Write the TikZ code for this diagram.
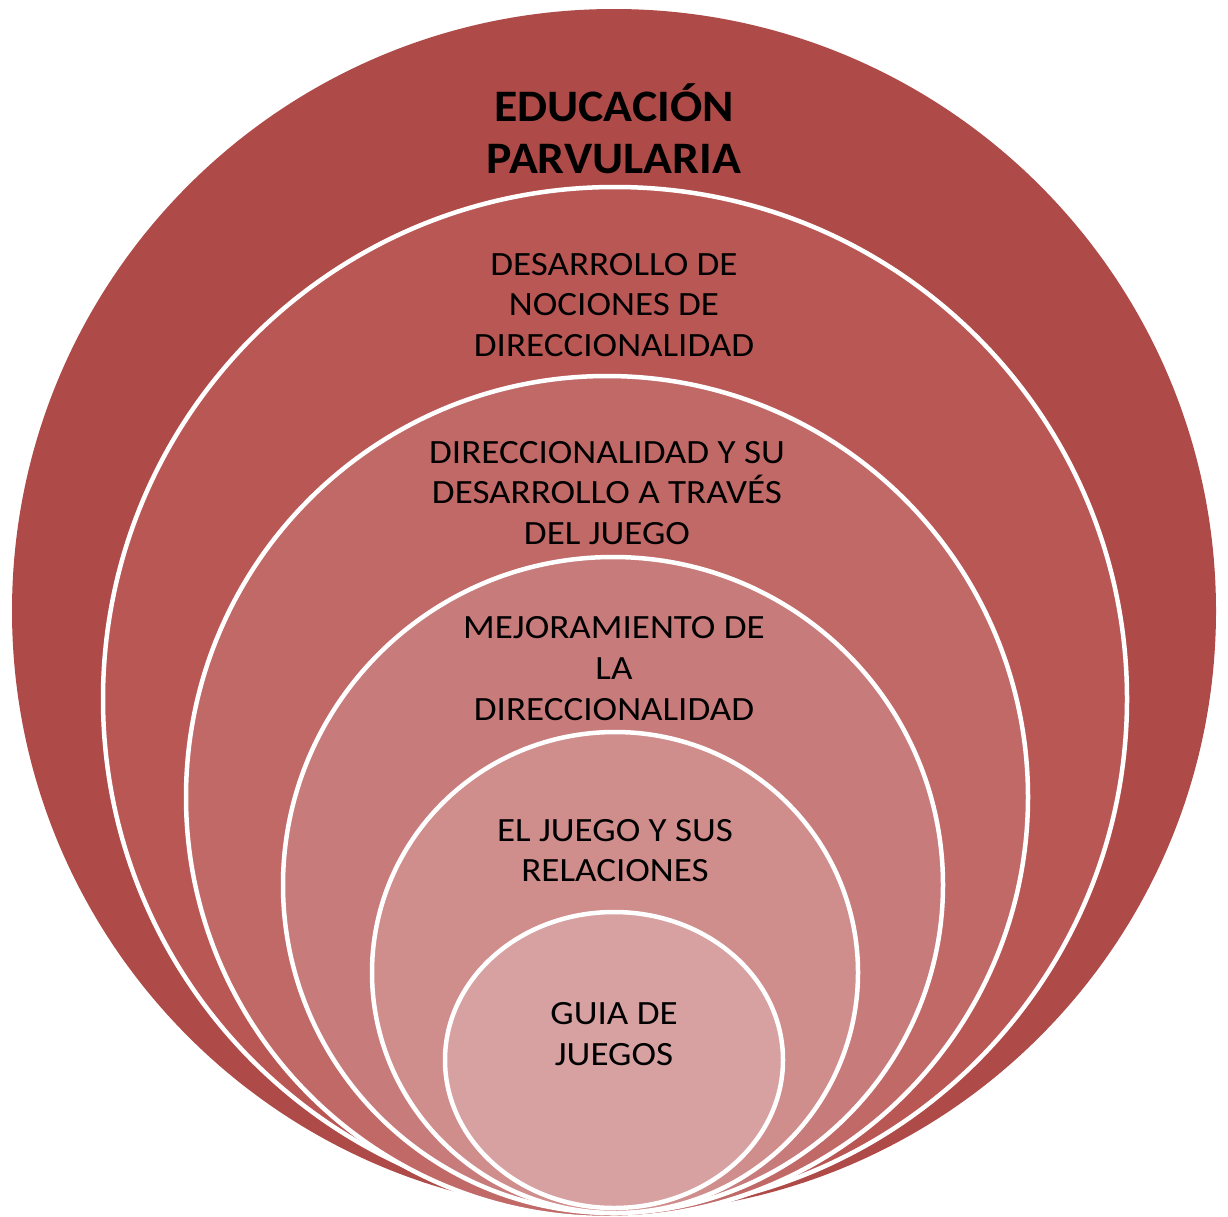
\documentclass[tikz,border=0pt]{standalone}
\usepackage{fontspec}
\setmainfont{Carlito}[FakeStretch=1.09]
\newfontfamily\ttlfont{Carlito}[FakeStretch=1.06]
\definecolor{cA}{RGB}{174,74,71}
\definecolor{cB}{RGB}{185,87,85}
\definecolor{cC}{RGB}{192,105,103}
\definecolor{cD}{RGB}{199,123,122}
\definecolor{cE}{RGB}{207,141,140}
\definecolor{cF}{RGB}{215,161,161}
\begin{document}
\begin{tikzpicture}[x=1pt,y=-1pt,
  ring/.style={draw=white,line width=4.5pt},
  lbl/.style={align=center,inner sep=0pt,text=black,font=\fontsize{34}{40.7}\selectfont},
  ttl/.style={align=center,inner sep=0pt,text=black,font=\ttlfont\fontsize{45}{52.7}\selectfont\bfseries}]
\useasboundingbox (0,0) rectangle (1228,1216);
% nested ellipses, outermost first
\fill[cA] (614,611) ellipse [x radius=602pt, y radius=602pt];
\filldraw[ring,fill=cB] (615,699) ellipse [x radius=512pt, y radius=512pt];
\filldraw[ring,fill=cC] (607,797) ellipse [x radius=421pt, y radius=421pt];
\filldraw[ring,fill=cD] (613,885) ellipse [x radius=330pt, y radius=328pt];
\filldraw[ring,fill=cE] (615,972.5) ellipse [x radius=243pt, y radius=240.5pt];
\filldraw[ring,fill=cF] (614,1060) ellipse [x radius=169pt, y radius=148pt];
% labels
\node[ttl] (t1) at (614,128.7) {EDUCACIÓN\\PARVULARIA};
\node[lbl] (t2) at (614,305) {DESARROLLO DE\\NOCIONES DE\\DIRECCIONALIDAD};
\node[lbl] (t3) at (607,492.8) {DIRECCIONALIDAD Y SU\\DESARROLLO A TRAVÉS\\DEL JUEGO};
\node[lbl] (t4) at (614,668.5) {MEJORAMIENTO DE\\LA\\DIRECCIONALIDAD};
\node[lbl] (t5) at (615,850.5) {EL JUEGO Y SUS\\RELACIONES};
\node[lbl] (t6) at (614,1033.8) {GUIA DE\\JUEGOS};
\end{tikzpicture}
\end{document}
